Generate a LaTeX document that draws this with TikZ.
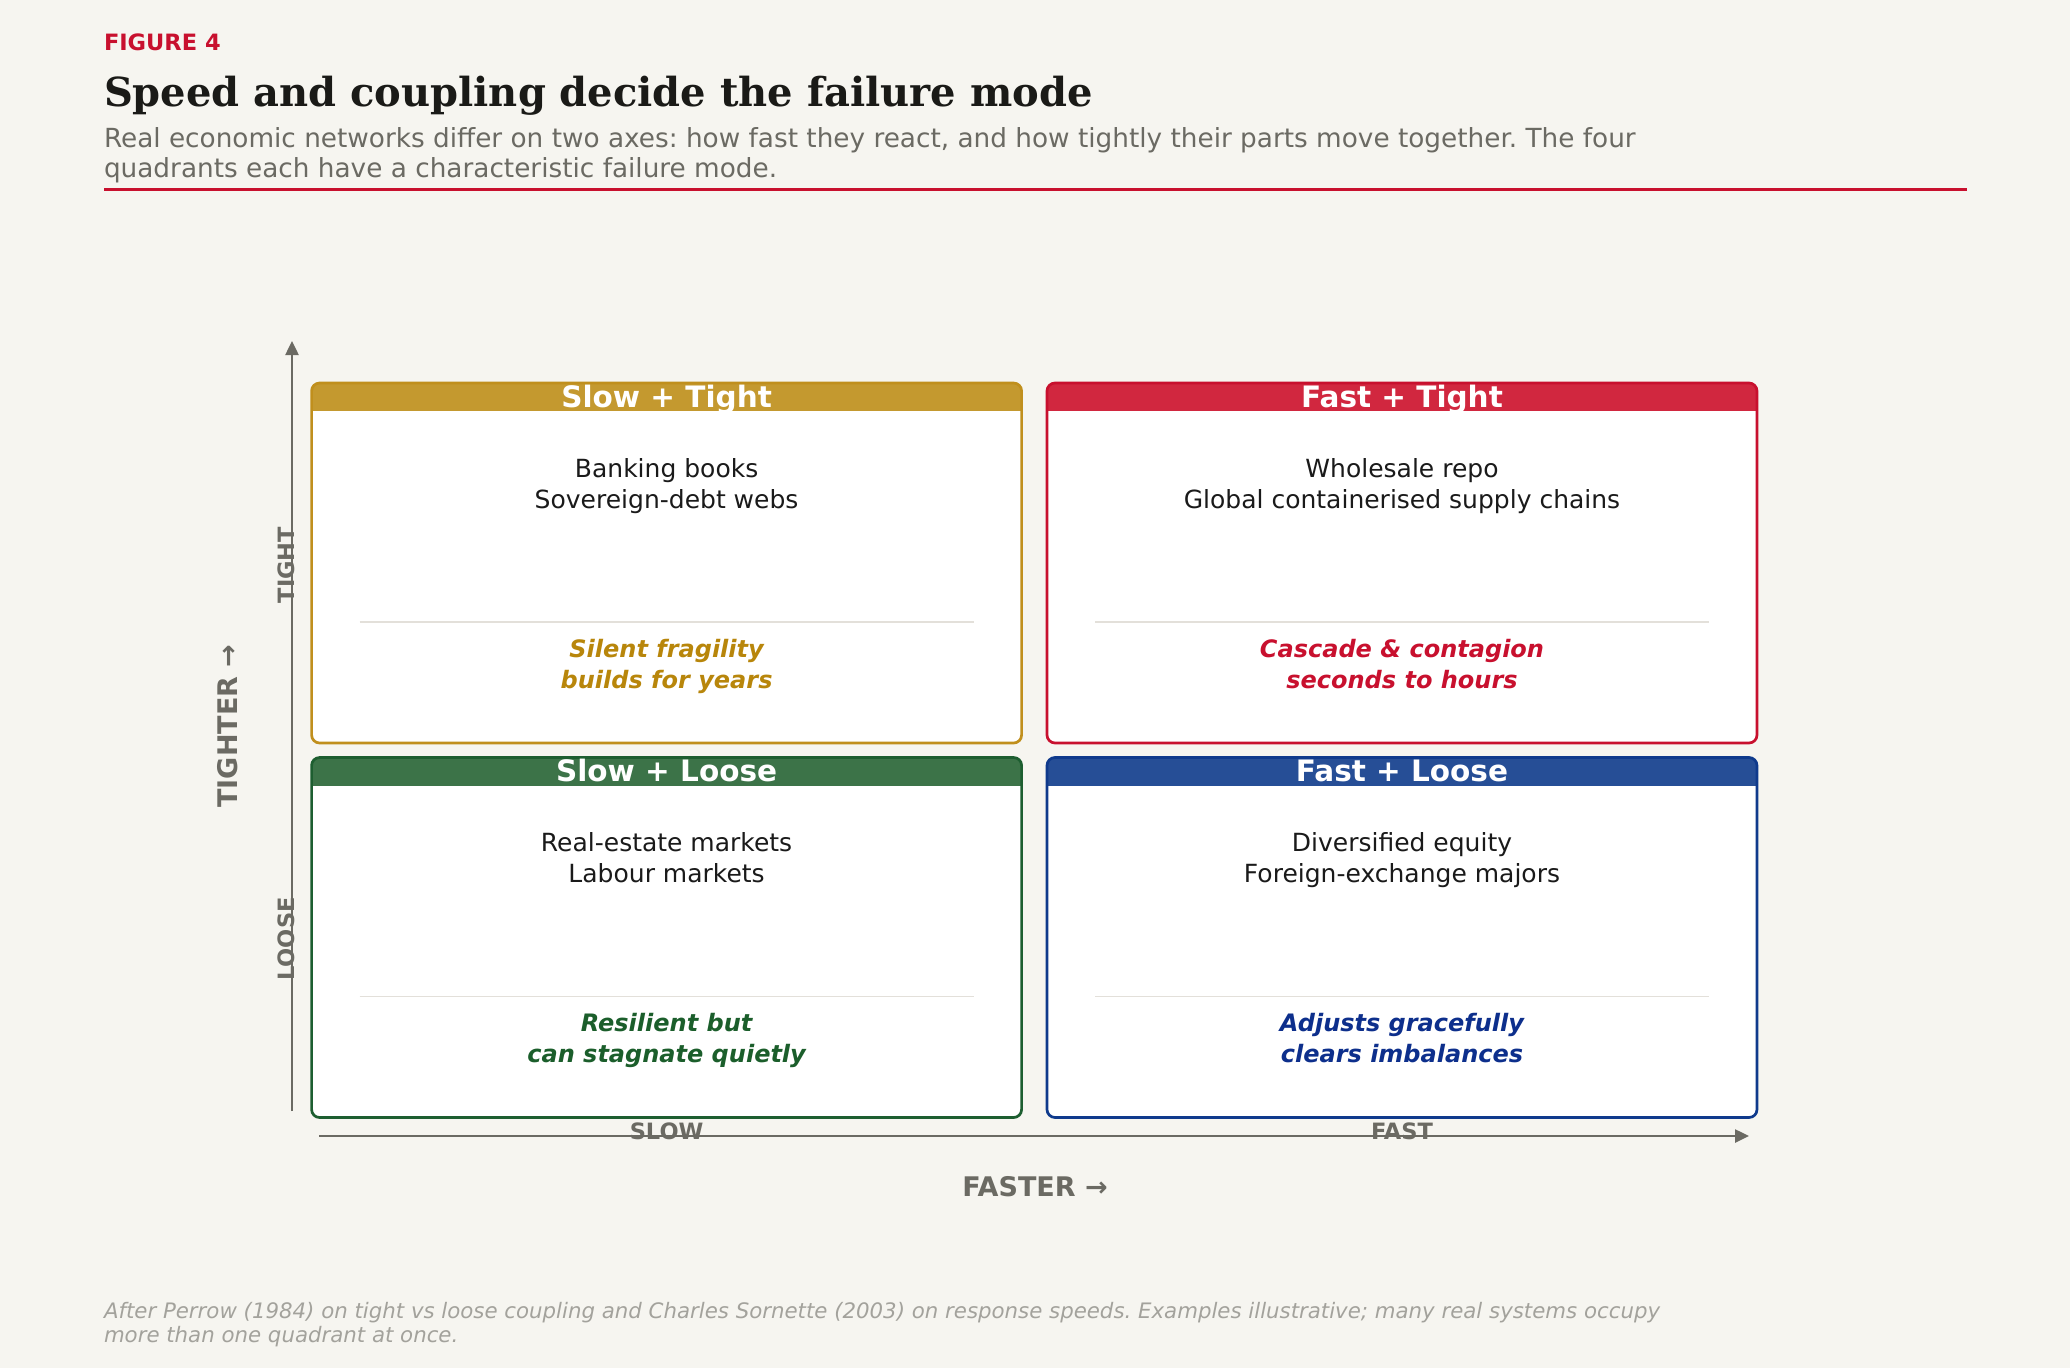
\documentclass[tikz,border=0pt]{standalone}
\usepackage{fontspec}
\setmainfont{DejaVu Sans}
\newfontfamily\titlefont{DejaVu Serif}
\usetikzlibrary{arrows.meta}
\frenchspacing
\definecolor{bg}{HTML}{F6F5F0}
\definecolor{figred}{HTML}{C8102E}
\definecolor{axgray}{HTML}{6B6A63}
\definecolor{footgray}{HTML}{A3A29C}
\definecolor{sepgray}{HTML}{E3E0DA}
\definecolor{titleblack}{HTML}{1A1A17}
\definecolor{bodyblack}{HTML}{1A1A1A}
\definecolor{goldhead}{HTML}{C4992F}
\definecolor{goldline}{HTML}{C08F1D}
\definecolor{goldtext}{HTML}{B8860B}
\definecolor{redhead}{HTML}{D1273F}
\definecolor{redline}{HTML}{C8102E}
\definecolor{redtext}{HTML}{C8102E}
\definecolor{greenhead}{HTML}{3C7348}
\definecolor{greenline}{HTML}{1D5E30}
\definecolor{greentext}{HTML}{1B5E2B}
\definecolor{bluehead}{HTML}{264E96}
\definecolor{blueline}{HTML}{0F3A8C}
\definecolor{bluetext}{HTML}{0D2F8C}
\tikzset{
  txt/.style={inner sep=0pt, outer sep=0pt, anchor=base},
  headtext/.style={txt, text=white, font=\fontsize{29.5}{35}\selectfont\bfseries},
  bodytext/.style={txt, text=bodyblack, font=\fontsize{25}{30}\selectfont},
  ittext/.style={txt, font=\fontsize{24}{30}\selectfont\bfseries\itshape},
  axlabel/.style={txt, text=axgray, font=\fontsize{22.5}{27}\selectfont\bfseries},
  axtitle/.style={inner sep=0pt, text=axgray, font=\fontsize{27}{32}\selectfont\bfseries},
  axline/.style={draw=axgray, line width=2.5pt, -{Triangle[length=14pt,width=13pt]}},
  quadframe/.style={inner sep=0pt, outer sep=0pt, minimum width=710pt, minimum height=360pt, anchor=north west},
}
\newcommand{\qbox}[9]{%
  \node[quadframe] (#1) at (#2,#3) {};
  \begin{scope}
    \clip[rounded corners=8pt] (#1.north west) rectangle (#1.south east);
    \fill[white] (#1.north west) rectangle (#1.south east);
    \fill[#4head] (#1.north west) rectangle ([yshift=-28pt]#1.north east);
  \end{scope}
  \draw[#4line, line width=2.7pt, rounded corners=8pt] (#1.north west) rectangle (#1.south east);
  \node[headtext] (#1-title) at ([yshift=-24pt]#1.north) {#5};
  \node[bodytext] (#1-b1) at ([yshift=-94pt]#1.north) {#6};
  \node[bodytext] (#1-b2) at ([yshift=-125pt]#1.north) {#7};
  \coordinate (#1-sl) at ([xshift=48pt,yshift=-239pt]#1.north west);
  \coordinate (#1-sr) at ([xshift=-48pt,yshift=-239pt]#1.north east);
  \draw[sepgray, line width=1.5pt] (#1-sl) -- (#1-sr);
  \node[ittext, text=#4text] (#1-i1) at ([yshift=-274pt]#1.north) {#8};
  \node[ittext, text=#4text] (#1-i2) at ([yshift=-305pt]#1.north) {#9};
}
\begin{document}
\begin{tikzpicture}[x=1pt, y=-1pt]
\useasboundingbox (0,0) rectangle (2070,1368);
\fill[bg] (0,0) rectangle (2070,1368);

% header
\node[txt, anchor=base west, text=figred, font=\fontsize{22.5}{27}\selectfont\bfseries] (fig) at (104,50) {FIGURE 4};
\node[txt, anchor=base west, text=titleblack, font=\titlefont\fontsize{40}{47}\selectfont\bfseries] (title) at (104,106) {Speed and coupling decide the failure mode};
\node[txt, anchor=base west, text=axgray, font=\fontsize{26.3}{30}\selectfont] (sub1) at (104,147) {Real economic networks differ on two axes: how fast they react, and how tightly their parts move together. The four};
\node[txt, anchor=base west, text=axgray, font=\fontsize{26.3}{30}\selectfont] (sub2) at (104,177) {quadrants each have a characteristic failure mode.};
\coordinate (ruleL) at (104,189);
\coordinate (ruleR) at (1967,189);
\draw[figred, line width=3pt] (ruleL) -- (ruleR);

% axes
\coordinate (yb) at (292,1111);
\coordinate (yt) at (292,341);
\coordinate (xl) at (319,1136);
\coordinate (xr) at (1749,1136);
\draw[axline] (yb) -- (yt);
\draw[axline] (xl) -- (xr);

% quadrants
\qbox{st}{311.6}{383}{gold}{Slow + Tight}{Banking books}{Sovereign-debt webs}{Silent fragility}{builds for years}
\qbox{ft}{1047}{383}{red}{Fast + Tight}{Wholesale repo}{Global containerised supply chains}{Cascade \& contagion}{seconds to hours}
\qbox{sl}{311.6}{757.5}{green}{Slow + Loose}{Real-estate markets}{Labour markets}{Resilient but}{can stagnate quietly}
\qbox{fl}{1047}{757.5}{blue}{Fast + Loose}{Diversified equity}{Foreign-exchange majors}{Adjusts gracefully}{clears imbalances}

% axis labels
\node[axlabel, anchor=center] (slow) at (666.6,1131) {SLOW};
\node[axlabel, anchor=center] (fast) at (1402,1131) {FAST};
\node[axlabel, anchor=center, rotate=90] (tight) at (286,565) {TIGHT};
\node[axlabel, anchor=center, rotate=90] (loose) at (286,939) {LOOSE};
\node[axtitle, rotate=90] (tighter) at (228,726) {TIGHTER →};
\node[axtitle] (faster) at (1035,1187) {FASTER →};

% footer
\node[txt, anchor=base west, text=footgray, font=\fontsize{21.3}{24}\selectfont\itshape] (foot1) at (104,1318) {After Perrow (1984) on tight vs loose coupling and Charles Sornette (2003) on response speeds. Examples illustrative; many real systems occupy};
\node[txt, anchor=base west, text=footgray, font=\fontsize{21.3}{24}\selectfont\itshape] (foot2) at (104,1342) {more than one quadrant at once.};
\end{tikzpicture}
\end{document}
